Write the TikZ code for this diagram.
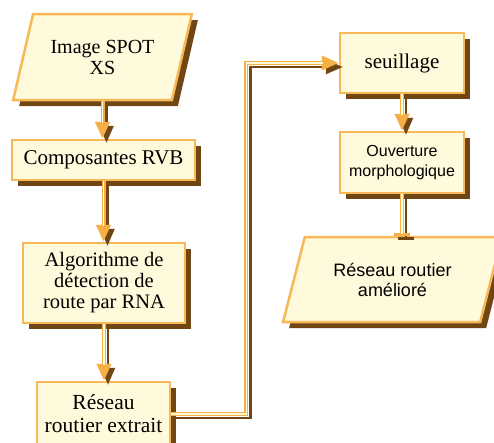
\documentclass[tikz,border=0pt]{standalone}
\usepackage{fontspec}
\setmainfont{Liberation Serif}
\setsansfont{Liberation Sans}
\usetikzlibrary{calc}
\usetikzlibrary{arrows.meta}
\usetikzlibrary{shapes.geometric}
\usetikzlibrary{shadows}
\definecolor{boxfill}{HTML}{FFFADB}
\definecolor{boxline}{HTML}{F6B955}
\definecolor{shadebrown}{HTML}{704614}
\definecolor{linkorange}{HTML}{F5AF45}
\tikzset{inner gap/.store in=\innergap, inner gap=16pt}
\tikzset{boxstyle/.style={draw=boxline, line width=2.5pt, fill=boxfill, align=center, inner sep=2pt,
  drop shadow={shadow xshift=6pt, shadow yshift=-6pt, fill=shadebrown, opacity=1}}}
\tikzset{procbox/.style={boxstyle, rectangle, font=\fontsize{21}{22}\selectfont}}
\tikzset{databox/.style={boxstyle, trapezium, trapezium left angle=68, trapezium right angle=112, trapezium stretches=true}}
\tikzset{link/.style={draw=linkorange, line width=4pt, line join=miter, -{#1},
  preaction={draw=shadebrown, line width=2.5pt, -{#1}, transform canvas={shift={(4pt,-4pt)}}},
  postaction={draw=boxfill, line width=1.2pt, -, shorten >=\innergap}},
  link/.default={Triangle[width=14pt,length=17pt]}}

\begin{document}
\begin{tikzpicture}[x=1pt, y=-1pt]
\clip (0,0) rectangle (494,442);
% entree et traitement
\node[databox, minimum width=179pt, minimum height=86pt, font=\fontsize{20}{21}\selectfont] (spot) at (102.5,57) {Image SPOT\\XS};
\node[procbox, minimum width=183pt, minimum height=40pt] (rvb) at (103.5,160) {Composantes RVB};
\node[procbox, minimum width=162pt, minimum height=80pt, font=\fontsize{20.5}{21}\selectfont] (algo) at (104,283) {Algorithme de\\d\'etection de\\route par RNA};
\node[procbox, minimum width=133pt, minimum height=64pt, font=\fontsize{21.5}{23}\selectfont] (extrait) at (103.5,414) {R\'eseau\\routier extrait};
% post-traitement
\node[procbox, minimum width=124pt, minimum height=60pt] (seuil) at (402,63) {seuillage};
\node[procbox, minimum width=124pt, minimum height=61pt, font=\sffamily\fontsize{16}{20}\selectfont] (ouv) at (402,162.5) {Ouverture\\morphologique};
\node[databox, minimum width=219pt, minimum height=85pt, font=\sffamily\fontsize{18}{20}\selectfont] (amel) at (392.5,279.5) {R\'eseau routier\\am\'elior\'e};
\foreach \a/\b in {spot/rvb, rvb/algo, algo/extrait, seuil/ouv} {
 \draw[link] (\a.south) -- (\a.south |- \b.north);
}
\draw[link] (extrait.east) -- ++(75,0) |- (seuil.west);
\draw[link={Bar[width=16pt,line width=3pt]}, inner gap=2pt] (ouv.south) -- (ouv.south |- amel.north);
\end{tikzpicture}
\end{document}
